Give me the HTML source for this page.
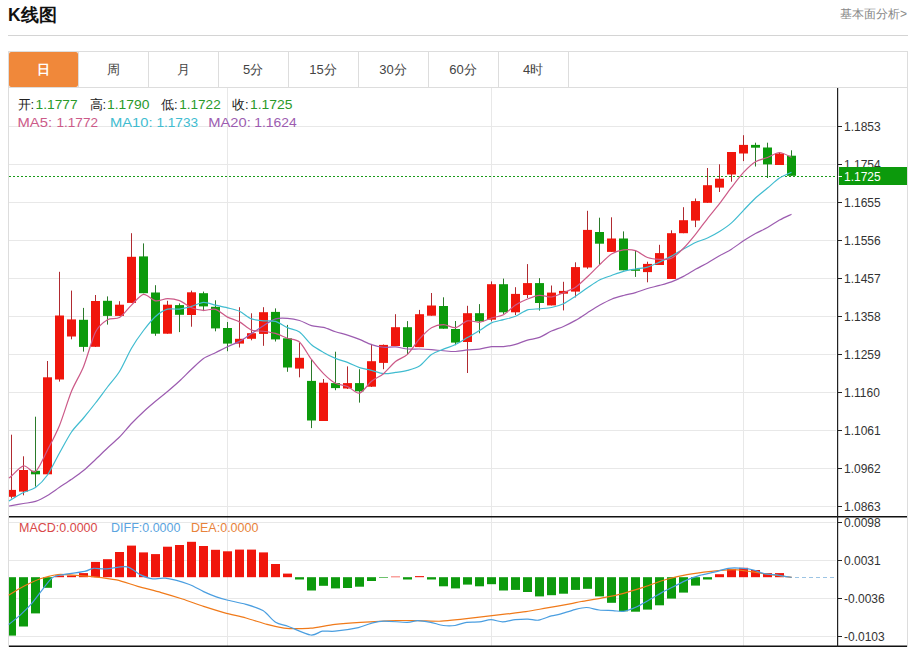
<!DOCTYPE html>
<html><head><meta charset="utf-8">
<style>
html,body{margin:0;padding:0;background:#fff;width:915px;height:647px;overflow:hidden;font-family:"Liberation Sans",sans-serif;}
svg{position:absolute;left:0;top:0;}
.ax{font-family:"Liberation Sans",sans-serif;font-size:12px;fill:#333;}
.tab{font-family:"Liberation Sans",sans-serif;font-size:13px;}
.lg{font-family:"Liberation Sans",sans-serif;font-size:13px;}
.lg2{font-family:"Liberation Sans",sans-serif;font-size:12.5px;}
.title{position:absolute;left:8px;top:3px;font-size:17.5px;font-weight:bold;color:#111;}
.more{position:absolute;right:8px;top:6px;font-size:12px;color:#888;}
.hline{position:absolute;left:8px;top:35px;width:900px;height:1px;background:#d4d4d4;}
</style></head><body>
<div class="title">K线图</div>
<div class="more">基本面分析&gt;</div>
<div class="hline"></div>
<svg width="915" height="647" viewBox="0 0 915 647">
<rect x="8.5" y="51.5" width="899" height="595" fill="none" stroke="#ddd"/><line x1="9" y1="87.5" x2="907" y2="87.5" stroke="#ddd"/><rect x="9" y="52" width="69" height="35" fill="#f0883a" rx="2"/><text x="43" y="74" class="tab" text-anchor="middle" style="fill:#fff;font-weight:bold;">日</text><line x1="78.5" y1="52" x2="78.5" y2="87" stroke="#ddd"/><text x="113" y="74" class="tab" text-anchor="middle" style="fill:#444;">周</text><line x1="148.5" y1="52" x2="148.5" y2="87" stroke="#ddd"/><text x="183" y="74" class="tab" text-anchor="middle" style="fill:#444;">月</text><line x1="218.5" y1="52" x2="218.5" y2="87" stroke="#ddd"/><text x="253" y="74" class="tab" text-anchor="middle" style="fill:#444;">5分</text><line x1="288.5" y1="52" x2="288.5" y2="87" stroke="#ddd"/><text x="323" y="74" class="tab" text-anchor="middle" style="fill:#444;">15分</text><line x1="358.5" y1="52" x2="358.5" y2="87" stroke="#ddd"/><text x="393" y="74" class="tab" text-anchor="middle" style="fill:#444;">30分</text><line x1="428.5" y1="52" x2="428.5" y2="87" stroke="#ddd"/><text x="463" y="74" class="tab" text-anchor="middle" style="fill:#444;">60分</text><line x1="498.5" y1="52" x2="498.5" y2="87" stroke="#ddd"/><text x="533" y="74" class="tab" text-anchor="middle" style="fill:#444;">4时</text><line x1="568.5" y1="52" x2="568.5" y2="87" stroke="#ddd"/>
<line x1="9" y1="126.5" x2="836" y2="126.5" stroke="#e8e8e8" stroke-width="1"/><line x1="9" y1="164.5" x2="836" y2="164.5" stroke="#e8e8e8" stroke-width="1"/><line x1="9" y1="202.5" x2="836" y2="202.5" stroke="#e8e8e8" stroke-width="1"/><line x1="9" y1="240.5" x2="836" y2="240.5" stroke="#e8e8e8" stroke-width="1"/><line x1="9" y1="278.5" x2="836" y2="278.5" stroke="#e8e8e8" stroke-width="1"/><line x1="9" y1="316.5" x2="836" y2="316.5" stroke="#e8e8e8" stroke-width="1"/><line x1="9" y1="354.5" x2="836" y2="354.5" stroke="#e8e8e8" stroke-width="1"/><line x1="9" y1="392.5" x2="836" y2="392.5" stroke="#e8e8e8" stroke-width="1"/><line x1="9" y1="430.5" x2="836" y2="430.5" stroke="#e8e8e8" stroke-width="1"/><line x1="9" y1="468.5" x2="836" y2="468.5" stroke="#e8e8e8" stroke-width="1"/><line x1="9" y1="506.5" x2="836" y2="506.5" stroke="#e8e8e8" stroke-width="1"/><line x1="227.5" y1="88" x2="227.5" y2="646" stroke="#e8e8e8" stroke-width="1"/><line x1="491.5" y1="88" x2="491.5" y2="646" stroke="#e8e8e8" stroke-width="1"/><line x1="743.5" y1="88" x2="743.5" y2="646" stroke="#e8e8e8" stroke-width="1"/><line x1="9" y1="522.5" x2="836" y2="522.5" stroke="#e8e8e8" stroke-width="1"/><line x1="9" y1="560.5" x2="836" y2="560.5" stroke="#e8e8e8" stroke-width="1"/><line x1="9" y1="598.5" x2="836" y2="598.5" stroke="#e8e8e8" stroke-width="1"/><line x1="9" y1="636.5" x2="836" y2="636.5" stroke="#e8e8e8" stroke-width="1"/><line x1="9" y1="176.5" x2="836" y2="176.5" stroke="#1a9a1a" stroke-width="1" stroke-dasharray="2,2"/><rect x="11" y="434.7" width="1" height="63.8" fill="#b02a30"/><rect x="9" y="489.9" width="7" height="6.9" fill="#f0160c"/><rect x="23" y="456.3" width="1" height="39.0" fill="#b02a30"/><rect x="19" y="470.0" width="9" height="21.6" fill="#f0160c"/><rect x="35" y="416.7" width="1" height="69.9" fill="#2a7a2a"/><rect x="31" y="470.8" width="9" height="3.5" fill="#0c9a0c"/><rect x="47" y="361.0" width="1" height="113.3" fill="#b02a30"/><rect x="43" y="377.3" width="9" height="97.0" fill="#f0160c"/><rect x="59" y="271.8" width="1" height="109.8" fill="#b02a30"/><rect x="55" y="315.5" width="9" height="64.0" fill="#f0160c"/><rect x="71" y="290.6" width="1" height="48.7" fill="#b02a30"/><rect x="67" y="319.4" width="9" height="17.1" fill="#f0160c"/><rect x="83" y="307.9" width="1" height="43.7" fill="#2a7a2a"/><rect x="79" y="319.8" width="9" height="27.1" fill="#0c9a0c"/><rect x="95" y="295.0" width="1" height="52.0" fill="#b02a30"/><rect x="91" y="301.0" width="9" height="45.8" fill="#f0160c"/><rect x="107" y="296.4" width="1" height="28.2" fill="#2a7a2a"/><rect x="103" y="300.8" width="9" height="15.1" fill="#0c9a0c"/><rect x="119" y="301.2" width="1" height="14.8" fill="#b02a30"/><rect x="115" y="304.7" width="9" height="11.2" fill="#f0160c"/><rect x="131" y="233.2" width="1" height="69.8" fill="#b02a30"/><rect x="127" y="256.8" width="9" height="46.1" fill="#f0160c"/><rect x="143" y="243.4" width="1" height="49.8" fill="#2a7a2a"/><rect x="139" y="256.4" width="9" height="36.8" fill="#0c9a0c"/><rect x="155" y="285.2" width="1" height="50.6" fill="#2a7a2a"/><rect x="151" y="292.5" width="9" height="41.2" fill="#0c9a0c"/><rect x="167" y="300.8" width="1" height="32.9" fill="#b02a30"/><rect x="163" y="304.7" width="9" height="29.0" fill="#f0160c"/><rect x="179" y="303.4" width="1" height="28.7" fill="#2a7a2a"/><rect x="175" y="305.1" width="9" height="9.7" fill="#0c9a0c"/><rect x="191" y="290.6" width="1" height="36.1" fill="#b02a30"/><rect x="187" y="292.3" width="9" height="22.7" fill="#f0160c"/><rect x="203" y="291.6" width="1" height="19.5" fill="#2a7a2a"/><rect x="199" y="293.2" width="9" height="13.2" fill="#0c9a0c"/><rect x="215" y="300.3" width="1" height="31.0" fill="#2a7a2a"/><rect x="211" y="306.8" width="9" height="21.6" fill="#0c9a0c"/><rect x="227" y="322.0" width="1" height="29.2" fill="#2a7a2a"/><rect x="223" y="328.0" width="9" height="15.6" fill="#0c9a0c"/><rect x="239" y="307.2" width="1" height="40.3" fill="#b02a30"/><rect x="235" y="338.8" width="9" height="4.8" fill="#f0160c"/><rect x="251" y="313.3" width="1" height="27.0" fill="#b02a30"/><rect x="247" y="333.2" width="9" height="5.6" fill="#f0160c"/><rect x="263" y="307.2" width="1" height="38.6" fill="#b02a30"/><rect x="259" y="312.2" width="9" height="21.7" fill="#f0160c"/><rect x="275" y="308.4" width="1" height="33.1" fill="#2a7a2a"/><rect x="271" y="311.9" width="9" height="27.5" fill="#0c9a0c"/><rect x="287" y="324.9" width="1" height="46.9" fill="#2a7a2a"/><rect x="283" y="338.3" width="9" height="29.2" fill="#0c9a0c"/><rect x="299" y="342.6" width="1" height="34.7" fill="#b02a30"/><rect x="295" y="357.8" width="9" height="10.8" fill="#f0160c"/><rect x="311" y="359.9" width="1" height="68.2" fill="#2a7a2a"/><rect x="307" y="380.9" width="9" height="39.6" fill="#0c9a0c"/><rect x="323" y="379.0" width="1" height="42.0" fill="#b02a30"/><rect x="319" y="382.7" width="9" height="38.3" fill="#f0160c"/><rect x="335" y="351.7" width="1" height="38.5" fill="#2a7a2a"/><rect x="331" y="383.1" width="9" height="5.0" fill="#0c9a0c"/><rect x="347" y="366.4" width="1" height="22.6" fill="#b02a30"/><rect x="343" y="383.1" width="9" height="5.4" fill="#f0160c"/><rect x="359" y="369.2" width="1" height="33.4" fill="#2a7a2a"/><rect x="355" y="383.1" width="9" height="8.2" fill="#0c9a0c"/><rect x="371" y="343.9" width="1" height="43.1" fill="#b02a30"/><rect x="367" y="361.2" width="9" height="25.5" fill="#f0160c"/><rect x="383" y="344.5" width="1" height="24.7" fill="#b02a30"/><rect x="379" y="344.9" width="9" height="18.0" fill="#f0160c"/><rect x="395" y="314.2" width="1" height="31.8" fill="#b02a30"/><rect x="391" y="327.2" width="9" height="18.8" fill="#f0160c"/><rect x="407" y="321.1" width="1" height="33.6" fill="#2a7a2a"/><rect x="403" y="327.2" width="9" height="19.9" fill="#0c9a0c"/><rect x="419" y="309.9" width="1" height="37.2" fill="#b02a30"/><rect x="415" y="314.2" width="9" height="32.9" fill="#f0160c"/><rect x="431" y="293.0" width="1" height="22.7" fill="#b02a30"/><rect x="427" y="305.5" width="9" height="10.2" fill="#f0160c"/><rect x="443" y="297.3" width="1" height="31.4" fill="#2a7a2a"/><rect x="439" y="306.0" width="9" height="22.7" fill="#0c9a0c"/><rect x="455" y="321.0" width="1" height="24.2" fill="#2a7a2a"/><rect x="451" y="329.0" width="9" height="13.6" fill="#0c9a0c"/><rect x="467" y="305.8" width="1" height="67.2" fill="#b02a30"/><rect x="463" y="313.2" width="9" height="28.8" fill="#f0160c"/><rect x="479" y="304.1" width="1" height="29.2" fill="#2a7a2a"/><rect x="475" y="313.2" width="9" height="8.2" fill="#0c9a0c"/><rect x="491" y="281.4" width="1" height="40.0" fill="#b02a30"/><rect x="487" y="284.2" width="9" height="35.5" fill="#f0160c"/><rect x="503" y="278.6" width="1" height="35.3" fill="#2a7a2a"/><rect x="499" y="284.2" width="9" height="28.1" fill="#0c9a0c"/><rect x="515" y="287.2" width="1" height="27.8" fill="#b02a30"/><rect x="511" y="293.9" width="9" height="18.4" fill="#f0160c"/><rect x="527" y="264.1" width="1" height="33.9" fill="#b02a30"/><rect x="523" y="283.1" width="9" height="11.9" fill="#f0160c"/><rect x="539" y="278.1" width="1" height="32.5" fill="#2a7a2a"/><rect x="535" y="283.1" width="9" height="19.9" fill="#0c9a0c"/><rect x="551" y="285.5" width="1" height="19.9" fill="#b02a30"/><rect x="547" y="292.6" width="9" height="12.8" fill="#f0160c"/><rect x="563" y="281.8" width="1" height="28.6" fill="#b02a30"/><rect x="559" y="290.9" width="9" height="2.8" fill="#f0160c"/><rect x="575" y="262.3" width="1" height="35.1" fill="#b02a30"/><rect x="571" y="267.1" width="9" height="24.5" fill="#f0160c"/><rect x="587" y="210.8" width="1" height="58.0" fill="#b02a30"/><rect x="583" y="229.9" width="9" height="37.6" fill="#f0160c"/><rect x="599" y="217.7" width="1" height="47.2" fill="#2a7a2a"/><rect x="595" y="232.0" width="9" height="11.7" fill="#0c9a0c"/><rect x="611" y="217.3" width="1" height="34.6" fill="#b02a30"/><rect x="607" y="238.5" width="9" height="13.4" fill="#f0160c"/><rect x="623" y="231.4" width="1" height="38.9" fill="#2a7a2a"/><rect x="619" y="238.5" width="9" height="31.8" fill="#0c9a0c"/><rect x="635" y="250.9" width="1" height="26.0" fill="#2a7a2a"/><rect x="631" y="269.3" width="9" height="1.5" fill="#0c9a0c"/><rect x="647" y="261.7" width="1" height="20.6" fill="#b02a30"/><rect x="643" y="263.9" width="9" height="8.2" fill="#f0160c"/><rect x="659" y="244.8" width="1" height="20.2" fill="#b02a30"/><rect x="655" y="253.1" width="9" height="11.9" fill="#f0160c"/><rect x="671" y="230.3" width="1" height="48.7" fill="#b02a30"/><rect x="667" y="233.2" width="9" height="45.8" fill="#f0160c"/><rect x="683" y="207.2" width="1" height="26.0" fill="#b02a30"/><rect x="679" y="220.2" width="9" height="13.0" fill="#f0160c"/><rect x="695" y="198.5" width="1" height="28.6" fill="#b02a30"/><rect x="691" y="201.1" width="9" height="19.5" fill="#f0160c"/><rect x="707" y="168.0" width="1" height="34.8" fill="#b02a30"/><rect x="703" y="185.2" width="9" height="17.6" fill="#f0160c"/><rect x="719" y="164.3" width="1" height="27.7" fill="#b02a30"/><rect x="715" y="178.7" width="9" height="8.9" fill="#f0160c"/><rect x="731" y="152.0" width="1" height="29.7" fill="#b02a30"/><rect x="727" y="152.0" width="9" height="22.5" fill="#f0160c"/><rect x="743" y="135.2" width="1" height="25.9" fill="#b02a30"/><rect x="739" y="144.9" width="9" height="8.6" fill="#f0160c"/><rect x="755" y="142.7" width="1" height="23.8" fill="#2a7a2a"/><rect x="751" y="144.9" width="9" height="2.8" fill="#0c9a0c"/><rect x="767" y="142.7" width="1" height="35.3" fill="#2a7a2a"/><rect x="763" y="147.5" width="9" height="16.9" fill="#0c9a0c"/><rect x="779" y="152.0" width="1" height="13.0" fill="#b02a30"/><rect x="775" y="153.5" width="9" height="11.5" fill="#f0160c"/><rect x="791" y="150.3" width="1" height="25.5" fill="#2a7a2a"/><rect x="787" y="155.7" width="9" height="20.1" fill="#0c9a0c"/><path d="M9.00,506.04 C9.36,505.98 9.43,505.96 11.50,505.60 C13.57,505.24 20.07,504.10 23.50,503.50 C26.93,502.90 32.07,502.54 35.50,501.40 C38.93,500.26 44.07,497.51 47.50,495.50 C50.93,493.49 56.07,489.61 59.50,487.30 C62.93,484.99 68.07,481.70 71.50,479.30 C74.93,476.90 80.07,473.33 83.50,470.50 C86.93,467.67 92.07,462.71 95.50,459.50 C98.93,456.29 104.07,451.21 107.50,448.00 C110.93,444.79 116.07,440.50 119.50,437.00 C122.93,433.50 128.07,427.11 131.50,423.50 C134.93,419.89 140.07,414.87 143.50,411.70 C146.93,408.53 152.07,404.19 155.50,401.30 C158.93,398.41 164.07,394.40 167.50,391.50 C170.93,388.60 176.07,384.17 179.50,381.00 C182.93,377.83 188.07,372.51 191.50,369.30 C194.93,366.09 200.07,360.86 203.50,358.50 C206.93,356.14 212.07,354.49 215.50,352.80 C218.93,351.11 224.07,348.33 227.50,346.70 C230.93,345.07 236.07,343.26 239.50,341.38 C242.93,339.50 248.07,335.79 251.50,333.54 C254.93,331.30 260.07,327.75 263.50,325.66 C266.93,323.56 272.07,319.94 275.50,318.91 C278.93,317.88 284.07,318.19 287.50,318.42 C290.93,318.65 296.07,319.51 299.50,320.53 C302.93,321.56 308.07,324.61 311.50,325.59 C314.93,326.57 320.07,326.50 323.50,327.38 C326.93,328.26 332.07,330.63 335.50,331.74 C338.93,332.84 344.07,334.00 347.50,335.09 C350.93,336.19 356.07,338.06 359.50,339.43 C362.93,340.79 368.07,343.53 371.50,344.64 C374.93,345.76 380.07,346.91 383.50,347.23 C386.93,347.55 392.07,346.65 395.50,346.91 C398.93,347.16 404.07,348.73 407.50,349.02 C410.93,349.32 416.07,348.90 419.50,349.00 C422.93,349.09 428.07,349.40 431.50,349.66 C434.93,349.91 440.07,350.51 443.50,350.77 C446.93,351.03 452.07,351.60 455.50,351.48 C458.93,351.36 464.07,350.30 467.50,349.96 C470.93,349.62 476.07,349.56 479.50,349.09 C482.93,348.62 488.07,346.99 491.50,346.64 C494.93,346.29 500.07,346.97 503.50,346.64 C506.93,346.32 512.07,345.30 515.50,344.37 C518.93,343.44 524.07,341.14 527.50,340.15 C530.93,339.16 536.07,338.71 539.50,337.41 C542.93,336.10 548.07,332.58 551.50,331.01 C554.93,329.45 560.07,327.94 563.50,326.43 C566.93,324.91 572.07,322.33 575.50,320.38 C578.93,318.42 584.07,314.86 587.50,312.72 C590.93,310.57 596.07,307.27 599.50,305.33 C602.93,303.40 608.07,300.61 611.50,299.20 C614.93,297.79 620.07,296.41 623.50,295.47 C626.93,294.53 632.07,293.65 635.50,292.65 C638.93,291.65 644.07,289.52 647.50,288.49 C650.93,287.46 656.07,286.39 659.50,285.44 C662.93,284.48 668.07,283.11 671.50,281.82 C674.93,280.53 680.07,278.18 683.50,276.39 C686.93,274.61 692.07,271.25 695.50,269.32 C698.93,267.39 704.07,264.85 707.50,262.92 C710.93,260.99 716.07,257.75 719.50,255.78 C722.93,253.82 728.07,251.31 731.50,249.18 C734.93,247.04 740.07,243.05 743.50,240.81 C746.93,238.56 752.07,235.39 755.50,233.49 C758.93,231.60 764.07,229.48 767.50,227.56 C770.93,225.64 776.07,221.99 779.50,220.08 C782.93,218.18 789.79,215.08 791.50,214.24" fill="none" stroke="#9c5cb0" stroke-width="1.2" stroke-linejoin="round"/><path d="M9.00,500.96 C9.36,500.75 9.43,500.71 11.50,499.50 C13.57,498.29 20.07,494.21 23.50,492.50 C26.93,490.79 32.07,490.00 35.50,487.50 C38.93,485.00 44.07,479.93 47.50,475.00 C50.93,470.07 56.07,459.14 59.50,453.00 C62.93,446.86 68.07,437.00 71.50,432.00 C74.93,427.00 80.07,422.14 83.50,418.00 C86.93,413.86 92.07,407.43 95.50,403.00 C98.93,398.57 104.07,391.50 107.50,387.00 C110.93,382.50 116.07,377.04 119.50,371.49 C122.93,365.94 128.07,354.04 131.50,348.18 C134.93,342.32 140.07,335.03 143.50,330.50 C146.93,325.97 152.07,319.49 155.50,316.44 C158.93,313.39 164.07,310.23 167.50,309.18 C170.93,308.13 176.07,309.51 179.50,309.11 C182.93,308.71 188.07,307.37 191.50,306.40 C194.93,305.43 200.07,302.54 203.50,302.35 C206.93,302.16 212.07,304.30 215.50,305.09 C218.93,305.88 224.07,306.98 227.50,307.86 C230.93,308.74 236.07,309.69 239.50,311.27 C242.93,312.85 248.07,317.55 251.50,318.91 C254.93,320.27 260.07,320.46 263.50,320.81 C266.93,321.16 272.07,320.40 275.50,321.38 C278.93,322.36 284.07,326.15 287.50,327.66 C290.93,329.17 296.07,329.51 299.50,331.96 C302.93,334.41 308.07,341.86 311.50,344.78 C314.93,347.70 320.07,350.47 323.50,352.41 C326.93,354.35 332.07,356.96 335.50,358.38 C338.93,359.80 344.07,361.02 347.50,362.33 C350.93,363.64 356.07,366.43 359.50,367.58 C362.93,368.73 368.07,369.51 371.50,370.38 C374.93,371.25 380.07,373.36 383.50,373.65 C386.93,373.94 392.07,372.90 395.50,372.43 C398.93,371.96 404.07,371.30 407.50,370.39 C410.93,369.48 416.07,368.30 419.50,366.03 C422.93,363.76 428.07,356.94 431.50,354.53 C434.93,352.12 440.07,350.55 443.50,349.13 C446.93,347.71 452.07,346.23 455.50,344.58 C458.93,342.93 464.07,339.59 467.50,337.59 C470.93,335.59 476.07,332.70 479.50,330.60 C482.93,328.50 488.07,324.47 491.50,322.90 C494.93,321.33 500.07,320.58 503.50,319.64 C506.93,318.70 512.07,317.70 515.50,316.31 C518.93,314.92 524.07,310.98 527.50,309.91 C530.93,308.84 536.07,309.13 539.50,308.79 C542.93,308.45 548.07,308.22 551.50,307.50 C554.93,306.78 560.07,305.34 563.50,303.72 C566.93,302.10 572.07,298.44 575.50,296.17 C578.93,293.90 584.07,290.14 587.50,287.84 C590.93,285.54 596.07,281.83 599.50,280.07 C602.93,278.31 608.07,276.75 611.50,275.50 C614.93,274.25 620.07,272.23 623.50,271.30 C626.93,270.37 632.07,269.59 635.50,268.99 C638.93,268.39 644.07,268.06 647.50,267.07 C650.93,266.08 656.07,263.64 659.50,262.08 C662.93,260.52 668.07,258.00 671.50,256.14 C674.93,254.28 680.07,251.02 683.50,249.07 C686.93,247.12 692.07,244.05 695.50,242.47 C698.93,240.89 704.07,239.57 707.50,238.00 C710.93,236.43 716.07,233.66 719.50,231.50 C722.93,229.34 728.07,225.88 731.50,222.85 C734.93,219.82 740.07,213.86 743.50,210.31 C746.93,206.76 752.07,201.18 755.50,198.00 C758.93,194.82 764.07,190.89 767.50,188.05 C770.93,185.21 776.07,180.33 779.50,178.09 C782.93,175.85 789.79,173.17 791.50,172.35" fill="none" stroke="#40bcd0" stroke-width="1.2" stroke-linejoin="round"/><path d="M9.00,478.12 C9.36,477.82 9.43,477.76 11.50,476.00 C13.57,474.24 20.07,466.44 23.50,465.80 C26.93,465.16 32.07,473.76 35.50,471.50 C38.93,469.24 44.07,456.59 47.50,450.00 C50.93,443.41 56.07,433.79 59.50,425.40 C62.93,417.01 68.07,399.69 71.50,391.30 C74.93,382.91 80.07,375.15 83.50,366.68 C86.93,358.21 92.07,338.73 95.50,332.02 C98.93,325.31 104.07,321.80 107.50,319.74 C110.93,317.68 116.07,319.68 119.50,317.58 C122.93,315.48 128.07,308.38 131.50,305.06 C134.93,301.74 140.07,294.92 143.50,294.32 C146.93,293.72 152.07,300.25 155.50,300.86 C158.93,301.47 164.07,298.65 167.50,298.62 C170.93,298.59 176.07,299.34 179.50,300.64 C182.93,301.94 188.07,306.35 191.50,307.74 C194.93,309.13 200.07,310.15 203.50,310.38 C206.93,310.61 212.07,308.36 215.50,309.32 C218.93,310.28 224.07,315.30 227.50,317.10 C230.93,318.90 236.07,320.05 239.50,321.90 C242.93,323.75 248.07,328.75 251.50,330.08 C254.93,331.41 260.07,330.76 263.50,331.24 C266.93,331.72 272.07,332.44 275.50,333.44 C278.93,334.44 284.07,336.99 287.50,338.22 C290.93,339.45 296.07,338.98 299.50,342.02 C302.93,345.06 308.07,354.97 311.50,359.48 C314.93,363.99 320.07,370.17 323.50,373.58 C326.93,376.99 332.07,381.48 335.50,383.32 C338.93,385.16 344.07,385.04 347.50,386.44 C350.93,387.84 356.07,393.88 359.50,393.14 C362.93,392.40 368.07,384.05 371.50,381.28 C374.93,378.51 380.07,376.54 383.50,373.72 C386.93,370.90 392.07,364.31 395.50,361.54 C398.93,358.77 404.07,357.57 407.50,354.34 C410.93,351.11 416.07,342.71 419.50,338.92 C422.93,335.13 428.07,329.83 431.50,327.78 C434.93,325.73 440.07,324.56 443.50,324.54 C446.93,324.52 452.07,328.15 455.50,327.62 C458.93,327.09 464.07,321.60 467.50,320.84 C470.93,320.08 476.07,322.68 479.50,322.28 C482.93,321.88 488.07,319.10 491.50,318.02 C494.93,316.94 500.07,316.60 503.50,314.74 C506.93,312.88 512.07,307.25 515.50,305.00 C518.93,302.75 524.07,300.37 527.50,298.98 C530.93,297.59 536.07,295.59 539.50,295.30 C542.93,295.01 548.07,297.35 551.50,296.98 C554.93,296.61 560.07,294.08 563.50,292.70 C566.93,291.32 572.07,289.63 575.50,287.34 C578.93,285.05 584.07,279.91 587.50,276.70 C590.93,273.49 596.07,268.08 599.50,264.84 C602.93,261.60 608.07,256.15 611.50,254.02 C614.93,251.89 620.07,250.38 623.50,249.90 C626.93,249.42 632.07,249.56 635.50,250.64 C638.93,251.72 644.07,256.20 647.50,257.44 C650.93,258.68 656.07,259.20 659.50,259.32 C662.93,259.44 668.07,259.84 671.50,258.26 C674.93,256.68 680.07,251.66 683.50,248.24 C686.93,244.82 692.07,238.54 695.50,234.30 C698.93,230.06 704.07,222.93 707.50,218.56 C710.93,214.19 716.07,208.13 719.50,203.68 C722.93,199.23 728.07,191.91 731.50,187.44 C734.93,182.97 740.07,176.06 743.50,172.38 C746.93,168.70 752.07,163.82 755.50,161.70 C758.93,159.58 764.07,158.85 767.50,157.54 C770.93,156.23 776.07,152.54 779.50,152.50 C782.93,152.46 789.79,156.58 791.50,157.26" fill="none" stroke="#cc5a88" stroke-width="1.2" stroke-linejoin="round"/><rect x="9" y="577.2" width="7" height="58.4" fill="#0c9a0c"/><rect x="19" y="577.2" width="9" height="49.3" fill="#0c9a0c"/><rect x="31" y="577.2" width="9" height="36.2" fill="#0c9a0c"/><rect x="43" y="577.2" width="9" height="10.6" fill="#0c9a0c"/><rect x="55" y="575.5" width="9" height="1.7" fill="#f0160c"/><rect x="67" y="575.5" width="9" height="1.7" fill="#f0160c"/><rect x="79" y="573.1" width="9" height="4.1" fill="#f0160c"/><rect x="91" y="561.9" width="9" height="15.3" fill="#f0160c"/><rect x="103" y="559.2" width="9" height="18.0" fill="#f0160c"/><rect x="115" y="552.0" width="9" height="25.2" fill="#f0160c"/><rect x="127" y="545.6" width="9" height="31.6" fill="#f0160c"/><rect x="139" y="552.4" width="9" height="24.8" fill="#f0160c"/><rect x="151" y="554.1" width="9" height="23.1" fill="#f0160c"/><rect x="163" y="546.7" width="9" height="30.5" fill="#f0160c"/><rect x="175" y="545.0" width="9" height="32.2" fill="#f0160c"/><rect x="187" y="541.8" width="9" height="35.4" fill="#f0160c"/><rect x="199" y="546.0" width="9" height="31.2" fill="#f0160c"/><rect x="211" y="549.8" width="9" height="27.4" fill="#f0160c"/><rect x="223" y="551.3" width="9" height="25.9" fill="#f0160c"/><rect x="235" y="549.6" width="9" height="27.6" fill="#f0160c"/><rect x="247" y="549.6" width="9" height="27.6" fill="#f0160c"/><rect x="259" y="552.4" width="9" height="24.8" fill="#f0160c"/><rect x="271" y="564.0" width="9" height="13.2" fill="#f0160c"/><rect x="283" y="573.6" width="9" height="3.6" fill="#f0160c"/><rect x="295" y="577.2" width="9" height="2.3" fill="#0c9a0c"/><rect x="307" y="577.2" width="9" height="13.3" fill="#0c9a0c"/><rect x="319" y="577.2" width="9" height="8.6" fill="#0c9a0c"/><rect x="331" y="577.2" width="9" height="11.2" fill="#0c9a0c"/><rect x="343" y="577.2" width="9" height="10.8" fill="#0c9a0c"/><rect x="355" y="577.2" width="9" height="9.5" fill="#0c9a0c"/><rect x="367" y="577.2" width="9" height="3.8" fill="#0c9a0c"/><rect x="379" y="577.2" width="9" height="0.6" fill="#0c9a0c"/><rect x="391" y="576.6" width="9" height="0.6" fill="#f0160c"/><rect x="403" y="577.2" width="9" height="2.3" fill="#0c9a0c"/><rect x="415" y="576.1" width="9" height="1.1" fill="#f0160c"/><rect x="427" y="577.2" width="9" height="2.3" fill="#0c9a0c"/><rect x="439" y="577.2" width="9" height="9.1" fill="#0c9a0c"/><rect x="451" y="577.2" width="9" height="11.2" fill="#0c9a0c"/><rect x="463" y="577.2" width="9" height="7.4" fill="#0c9a0c"/><rect x="475" y="577.2" width="9" height="9.1" fill="#0c9a0c"/><rect x="487" y="577.2" width="9" height="7.0" fill="#0c9a0c"/><rect x="499" y="577.2" width="9" height="13.3" fill="#0c9a0c"/><rect x="511" y="577.2" width="9" height="12.7" fill="#0c9a0c"/><rect x="523" y="577.2" width="9" height="14.8" fill="#0c9a0c"/><rect x="535" y="577.2" width="9" height="19.2" fill="#0c9a0c"/><rect x="547" y="577.2" width="9" height="18.0" fill="#0c9a0c"/><rect x="559" y="577.2" width="9" height="16.5" fill="#0c9a0c"/><rect x="571" y="577.2" width="9" height="12.7" fill="#0c9a0c"/><rect x="583" y="577.2" width="9" height="11.6" fill="#0c9a0c"/><rect x="595" y="577.2" width="9" height="19.2" fill="#0c9a0c"/><rect x="607" y="577.2" width="9" height="25.6" fill="#0c9a0c"/><rect x="619" y="577.2" width="9" height="34.1" fill="#0c9a0c"/><rect x="631" y="577.2" width="9" height="34.5" fill="#0c9a0c"/><rect x="643" y="577.2" width="9" height="32.4" fill="#0c9a0c"/><rect x="655" y="577.2" width="9" height="28.1" fill="#0c9a0c"/><rect x="667" y="577.2" width="9" height="21.4" fill="#0c9a0c"/><rect x="679" y="577.2" width="9" height="15.4" fill="#0c9a0c"/><rect x="691" y="577.2" width="9" height="8.4" fill="#0c9a0c"/><rect x="703" y="577.2" width="9" height="2.3" fill="#0c9a0c"/><rect x="715" y="574.2" width="9" height="3.0" fill="#f0160c"/><rect x="727" y="568.9" width="9" height="8.3" fill="#f0160c"/><rect x="739" y="567.8" width="9" height="9.4" fill="#f0160c"/><rect x="751" y="570.0" width="9" height="7.2" fill="#f0160c"/><rect x="763" y="573.1" width="9" height="4.1" fill="#f0160c"/><rect x="775" y="573.1" width="9" height="4.1" fill="#f0160c"/><line x1="795" y1="577.5" x2="836" y2="577.5" stroke="#9cc4e4" stroke-width="1" stroke-dasharray="4,3"/><path d="M8.70,595.20 C10.34,594.20 17.03,589.97 20.20,588.20 C23.37,586.43 28.03,584.14 30.90,582.80 C33.77,581.46 37.61,579.76 40.30,578.80 C42.99,577.84 47.20,576.71 49.70,576.10 C52.20,575.49 54.90,574.69 57.80,574.50 C60.70,574.31 64.94,574.49 70.00,574.80 C75.06,575.11 86.56,575.97 93.20,576.70 C99.84,577.43 110.14,578.53 116.50,579.90 C122.86,581.27 131.31,584.49 137.70,586.30 C144.09,588.11 154.81,590.79 161.20,592.60 C167.59,594.41 176.34,597.03 182.40,599.00 C188.46,600.97 197.56,604.43 203.60,606.40 C209.64,608.37 218.66,611.14 224.70,612.80 C230.74,614.46 239.84,616.34 245.90,618.00 C251.96,619.66 261.66,622.94 267.10,624.40 C272.54,625.86 280.34,627.60 284.00,628.20 C287.66,628.80 288.89,628.60 292.70,628.60 C296.51,628.60 304.66,628.80 310.70,628.20 C316.74,627.60 327.89,625.24 335.00,624.40 C342.11,623.56 351.71,622.84 360.50,622.30 C369.29,621.76 388.33,620.84 396.50,620.60 C404.67,620.36 411.31,620.51 417.70,620.60 C424.09,620.69 434.81,621.41 441.20,621.20 C447.59,620.99 456.34,619.76 462.40,619.10 C468.46,618.44 477.56,617.30 483.60,616.60 C489.64,615.90 498.66,614.90 504.70,614.20 C510.74,613.50 519.84,612.60 525.90,611.70 C531.96,610.80 540.80,609.01 547.10,607.90 C553.40,606.79 565.13,604.81 570.00,603.90 C574.87,602.99 576.57,602.36 581.20,601.50 C585.83,600.64 596.34,599.07 602.40,597.90 C608.46,596.73 617.56,594.87 623.60,593.30 C629.64,591.73 638.66,588.87 644.70,586.90 C650.74,584.93 659.84,581.26 665.90,579.50 C671.96,577.74 680.63,575.76 687.10,574.60 C693.57,573.44 704.73,572.10 711.20,571.40 C717.67,570.70 726.96,569.70 732.40,569.70 C737.84,569.70 744.76,570.84 749.30,571.40 C753.84,571.96 759.96,572.99 764.20,573.60 C768.44,574.21 775.07,575.16 779.00,575.70 C782.93,576.24 789.89,577.16 791.70,577.40" fill="none" stroke="#f07a1a" stroke-width="1.2" stroke-linejoin="round"/><path d="M8.70,624.50 C10.34,623.16 17.03,617.97 20.20,615.10 C23.37,612.23 28.03,607.66 30.90,604.40 C33.77,601.14 37.43,595.96 40.30,592.30 C43.17,588.64 48.69,581.14 51.00,578.80 C53.31,576.46 54.70,576.50 56.50,575.90 C58.30,575.30 59.57,575.24 63.60,574.60 C67.63,573.96 80.47,572.30 84.70,571.40 C88.93,570.50 90.16,568.66 93.20,568.30 C96.24,567.94 101.16,569.11 106.00,568.90 C110.84,568.69 122.24,565.99 127.10,566.80 C131.96,567.61 136.34,572.87 140.00,574.60 C143.66,576.33 149.07,578.39 152.70,578.90 C156.33,579.41 160.26,577.44 165.40,578.20 C170.54,578.96 183.24,582.29 188.70,584.20 C194.16,586.11 199.66,589.79 203.60,591.60 C207.54,593.41 212.97,595.70 216.30,596.90 C219.63,598.10 222.67,598.94 226.90,600.00 C231.13,601.06 240.76,602.79 245.90,604.30 C251.04,605.81 258.66,608.03 262.90,610.60 C267.14,613.17 271.94,620.03 275.60,622.30 C279.26,624.57 283.49,624.69 288.50,626.50 C293.51,628.31 305.86,634.33 310.70,635.00 C315.54,635.67 318.93,631.74 322.40,631.20 C325.87,630.66 329.86,631.71 335.00,631.20 C340.14,630.69 353.24,628.73 358.40,627.60 C363.56,626.47 367.47,624.21 371.10,623.30 C374.73,622.39 378.66,621.34 383.80,621.20 C388.94,621.06 402.26,622.39 407.10,622.30 C411.94,622.21 414.34,620.60 417.70,620.60 C421.06,620.60 426.94,621.60 430.60,622.30 C434.26,623.00 439.81,625.04 443.30,625.50 C446.79,625.96 451.67,625.96 455.00,625.50 C458.33,625.04 463.13,622.81 466.60,622.30 C470.07,621.79 475.81,622.27 479.30,621.90 C482.79,621.53 487.67,619.70 491.00,619.70 C494.33,619.70 499.13,621.90 502.60,621.90 C506.07,621.90 511.67,620.10 515.30,619.70 C518.93,619.30 524.67,619.03 528.00,619.10 C531.33,619.17 535.26,620.66 538.60,620.20 C541.94,619.74 548.34,616.76 551.40,615.90 C554.46,615.04 556.66,615.10 560.00,614.20 C563.34,613.30 571.01,610.56 574.80,609.60 C578.59,608.64 583.01,607.44 586.50,607.50 C589.99,607.56 595.41,609.56 599.20,610.00 C602.99,610.44 609.51,610.41 613.00,610.60 C616.49,610.79 620.27,611.81 623.60,611.30 C626.93,610.79 632.67,608.61 636.30,607.00 C639.93,605.39 645.37,602.06 649.00,600.00 C652.63,597.94 658.07,594.56 661.70,592.60 C665.33,590.64 670.77,588.11 674.40,586.30 C678.03,584.49 683.47,581.47 687.10,579.90 C690.73,578.33 695.76,576.44 699.80,575.30 C703.84,574.16 711.36,572.90 715.40,571.90 C719.44,570.90 724.16,568.81 728.10,568.30 C732.04,567.79 739.36,568.06 743.00,568.30 C746.64,568.54 750.57,569.24 753.60,570.00 C756.63,570.76 760.57,572.84 764.20,573.60 C767.83,574.36 775.07,574.76 779.00,575.30 C782.93,575.84 789.89,577.10 791.70,577.40" fill="none" stroke="#4a9ee0" stroke-width="1.2" stroke-linejoin="round"/><rect x="9" y="516" width="898" height="1.5" fill="#111"/><rect x="9" y="645.5" width="898" height="1.5" fill="#111"/><rect x="837" y="88" width="1.2" height="559" fill="#222"/><rect x="838" y="126" width="4" height="1" fill="#222"/><text x="844" y="130.5" class="ax">1.1853</text><rect x="838" y="164" width="4" height="1" fill="#222"/><text x="844" y="168.5" class="ax">1.1754</text><rect x="838" y="202" width="4" height="1" fill="#222"/><text x="844" y="206.5" class="ax">1.1655</text><rect x="838" y="240" width="4" height="1" fill="#222"/><text x="844" y="244.5" class="ax">1.1556</text><rect x="838" y="278" width="4" height="1" fill="#222"/><text x="844" y="282.5" class="ax">1.1457</text><rect x="838" y="316" width="4" height="1" fill="#222"/><text x="844" y="320.5" class="ax">1.1358</text><rect x="838" y="354" width="4" height="1" fill="#222"/><text x="844" y="358.5" class="ax">1.1259</text><rect x="838" y="392" width="4" height="1" fill="#222"/><text x="844" y="396.5" class="ax">1.1160</text><rect x="838" y="430" width="4" height="1" fill="#222"/><text x="844" y="434.5" class="ax">1.1061</text><rect x="838" y="468" width="4" height="1" fill="#222"/><text x="844" y="472.5" class="ax">1.0962</text><rect x="838" y="506" width="4" height="1" fill="#222"/><text x="844" y="510.5" class="ax">1.0863</text><rect x="838" y="522" width="4" height="1" fill="#222"/><text x="844" y="526.5" class="ax">0.0098</text><rect x="838" y="560" width="4" height="1" fill="#222"/><text x="844" y="564.5" class="ax">0.0031</text><rect x="838" y="598" width="4" height="1" fill="#222"/><text x="844" y="602.5" class="ax">-0.0036</text><rect x="838" y="636" width="4" height="1" fill="#222"/><text x="844" y="640.5" class="ax">-0.0103</text><rect x="839" y="167" width="68" height="18" fill="#0c9a0c"/><rect x="838" y="176" width="4" height="1" fill="#fff"/><text x="844" y="180.5" class="ax" fill="#fff" style="fill:#fff">1.1725</text>

<text x="17.5" y="108.5" class="lg" style="fill:#222">开:</text><text x="35.6" y="108.5" class="lg" style="fill:#2a9a2a" textLength="42" lengthAdjust="spacingAndGlyphs">1.1777</text>
<text x="89.5" y="108.5" class="lg" style="fill:#222">高:</text><text x="107" y="108.5" class="lg" style="fill:#2a9a2a" textLength="42.5" lengthAdjust="spacingAndGlyphs">1.1790</text>
<text x="161" y="108.5" class="lg" style="fill:#222">低:</text><text x="179.2" y="108.5" class="lg" style="fill:#2a9a2a" textLength="41.5" lengthAdjust="spacingAndGlyphs">1.1722</text>
<text x="232" y="108.5" class="lg" style="fill:#222">收:</text><text x="250" y="108.5" class="lg" style="fill:#2a9a2a" textLength="42.5" lengthAdjust="spacingAndGlyphs">1.1725</text>
<text x="17.5" y="126.5" class="lg" style="fill:#cc5a88" textLength="34.5" lengthAdjust="spacingAndGlyphs">MA5:</text><text x="56.5" y="126.5" class="lg" style="fill:#cc5a88" textLength="41.5" lengthAdjust="spacingAndGlyphs">1.1772</text>
<text x="110" y="126.5" class="lg" style="fill:#40bcd0" textLength="42.5" lengthAdjust="spacingAndGlyphs">MA10:</text><text x="156.5" y="126.5" class="lg" style="fill:#40bcd0" textLength="41.5" lengthAdjust="spacingAndGlyphs">1.1733</text>
<text x="208.3" y="126.5" class="lg" style="fill:#9c5cb0" textLength="42.5" lengthAdjust="spacingAndGlyphs">MA20:</text><text x="254.2" y="126.5" class="lg" style="fill:#9c5cb0" textLength="42.5" lengthAdjust="spacingAndGlyphs">1.1624</text>
<text x="19" y="532" class="lg2" style="fill:#d84848">MACD:0.0000</text>
<text x="111" y="532" class="lg2" style="fill:#5aa4e0">DIFF:0.0000</text>
<text x="191" y="532" class="lg2" style="fill:#e8823a">DEA:0.0000</text>

</svg>
</body></html>
